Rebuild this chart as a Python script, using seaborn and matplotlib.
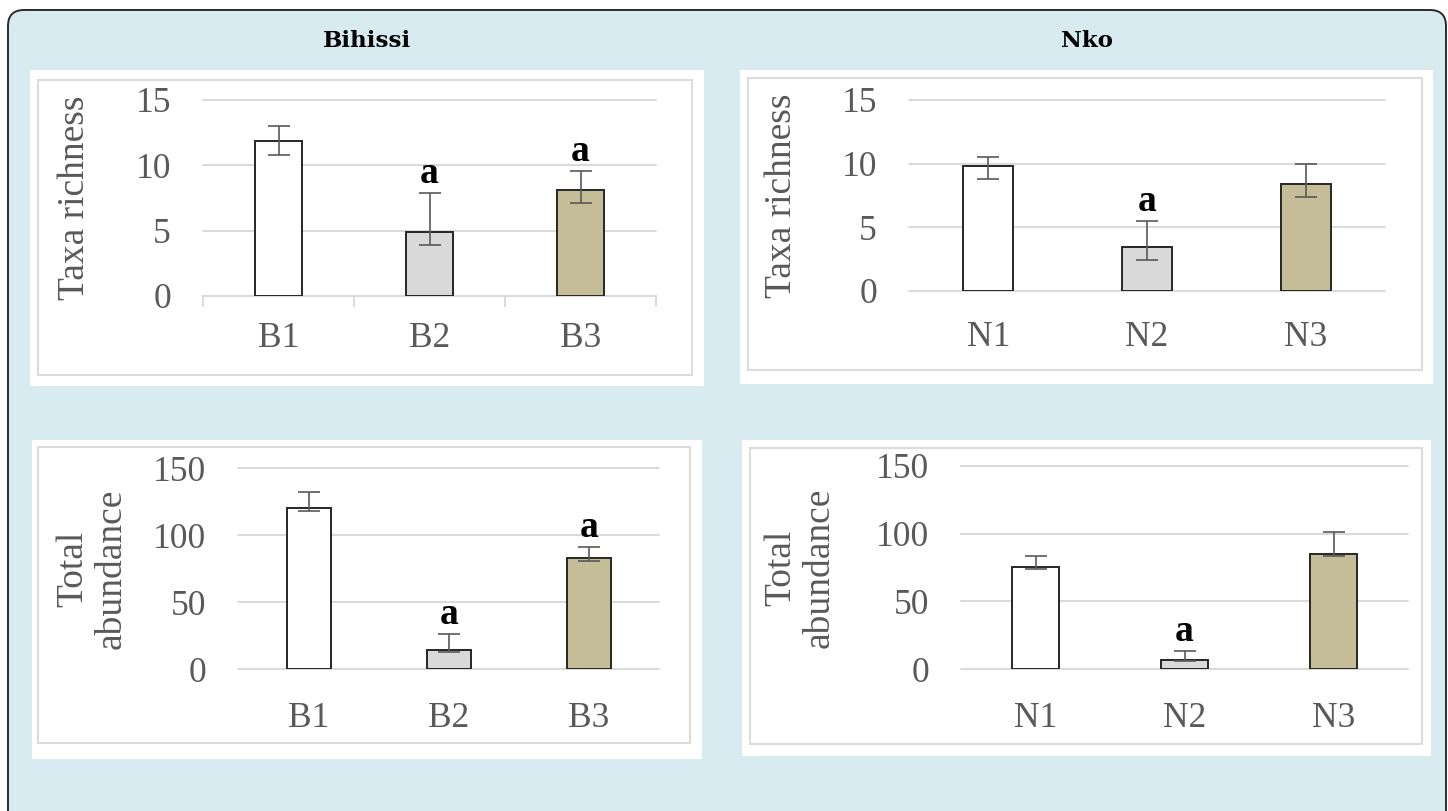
import matplotlib
matplotlib.use("Agg")
import matplotlib.pyplot as plt
from matplotlib.patches import FancyBboxPatch, Rectangle
from matplotlib.transforms import IdentityTransform
import numpy as np
import pandas as pd
import seaborn as sns

# ---- data -------------------------------------------------------------
sites_b = ["B1", "B2", "B3"]
sites_n = ["N1", "N2", "N3"]

richness_b = [11.9, 4.9, 8.1]
richness_b_err_lo = [1.1, 1.0, 1.0]
richness_b_err_hi = [1.1, 3.0, 1.45]
richness_b_letters = ["", "a", "a"]

richness_n = [9.8, 3.4, 8.4]
richness_n_err_lo = [1.0, 1.0, 1.0]
richness_n_err_hi = [0.7, 2.1, 1.6]
richness_n_letters = ["", "a", ""]

abundance_b = [120, 14, 83]
abundance_b_err_lo = [2, 1, 2]
abundance_b_err_hi = [12, 12, 8]
abundance_b_letters = ["", "a", "a"]

abundance_n = [75.5, 6.6, 85]
abundance_n_err_lo = [1.5, 1, 1.5]
abundance_n_err_hi = [8, 7, 16]
abundance_n_letters = ["", "a", ""]

richness_ticks = [0, 5, 10, 15]
abundance_ticks = [0, 50, 100, 150]
river_titles = ["Bihissi", "Nko"]

bar_colors = ["#ffffff", "#d9d9d9", "#c4bd97"]

# ---- styling ----------------------------------------------------------
sns.set_theme(style="white")
plt.rcParams["font.family"] = ["Liberation Serif", "DejaVu Serif"]

W, H = 1448, 811
fig = plt.figure(figsize=(W / 100, H / 100), dpi=100)
fig.patch.set_facecolor("white")

TEXT_GRAY = "#595959"
GRID_GRAY = "#d9d9d9"
BG_BLUE = "#d7ebf0"


def pix_box(x0, y0, x1, y1):
    """Pixel box measured from the top-left corner -> display (x, y, w, h)."""
    return x0, H - y1, x1 - x0, y1 - y0


def axes_rect(x0, y0, x1, y1):
    return [x0 / W, 1 - y1 / H, (x1 - x0) / W, (y1 - y0) / H]


# outer rounded frame
x, y, w, h = pix_box(8, 10, 1446, 840)
fig.add_artist(FancyBboxPatch((x, y), w, h,
                              boxstyle="round,pad=0,rounding_size=16",
                              transform=IdentityTransform(),
                              facecolor=BG_BLUE, edgecolor="#2b2b2b",
                              linewidth=1.4, zorder=-20))

# white chart panels with their light frames
panels = [
    ((30, 70, 704, 386), (38, 80, 692, 375)),
    ((740, 70, 1433, 384), (748, 78, 1422, 370)),
    ((32, 440, 702, 759), (38, 447, 690, 743)),
    ((742, 440, 1431, 756), (750, 448, 1422, 744)),
]
for outer, inner in panels:
    fig.add_artist(Rectangle(pix_box(*outer)[:2], *pix_box(*outer)[2:],
                             transform=IdentityTransform(),
                             facecolor="white", edgecolor="none", zorder=-15))
    fig.add_artist(Rectangle(pix_box(*inner)[:2], *pix_box(*inner)[2:],
                             transform=IdentityTransform(),
                             facecolor="none", edgecolor="#dcdcdc",
                             linewidth=1.5, zorder=-14))

# river titles
for title, cx in zip(river_titles, [367, 1086.5]):
    fig.text(cx / W, 1 - 41 / H, title, ha="center", va="center",
             fontsize=16.5, fontweight="bold", family="DejaVu Serif",
             color="black")


def draw_panel(rect, sites, values, err_lo, err_hi, letters, ticks,
               ylabel, label_x, xpad, axis_line=False):
    ax = fig.add_axes(axes_rect(*rect))
    ax.patch.set_alpha(0)
    df = pd.DataFrame({"site": sites, "value": values})
    sns.barplot(data=df, x="site", y="value", hue="site",
                palette=bar_colors, saturation=1, width=0.315,
                edgecolor="#262626", linewidth=1.4, errorbar=None,
                legend=False, ax=ax, zorder=3)
    xs = np.arange(len(sites))
    ax.errorbar(xs, values, yerr=[err_lo, err_hi], fmt="none",
                ecolor=TEXT_GRAY, elinewidth=1.2, capsize=8,
                capthick=1.2, zorder=4)
    for xi, v, hi, lab in zip(xs, values, err_hi, letters):
        if lab:
            ax.annotate(lab, (xi, v + hi), xytext=(0, 1.5),
                        textcoords="offset points", ha="center",
                        va="bottom", fontsize=27, fontweight="bold",
                        color="black", zorder=5)
    ax.set_ylim(ticks[0], ticks[-1])
    ax.set_xlim(-0.5, len(sites) - 0.5)
    ax.set_yticks(ticks)
    ax.yaxis.grid(True, color=GRID_GRAY, linewidth=1.4)
    ax.set_axisbelow(True)
    for gl in ax.get_ygridlines():
        gl.set_clip_on(False)
    for side in ["top", "right", "left", "bottom"]:
        ax.spines[side].set_visible(False)
    if axis_line:
        ax.spines["bottom"].set_visible(True)
        ax.spines["bottom"].set_color(GRID_GRAY)
        ax.spines["bottom"].set_linewidth(1.4)
        ax.set_xticks([-0.5, 0.5, 1.5, 2.5], minor=True)
        ax.tick_params(axis="x", which="minor", length=8, width=1.3,
                       color=GRID_GRAY, direction="out", bottom=True)
    ax.tick_params(axis="both", which="major", length=0)
    ax.tick_params(axis="y", labelsize=25.5, labelcolor=TEXT_GRAY, pad=23)
    ax.tick_params(axis="x", labelsize=25.5, labelcolor=TEXT_GRAY, pad=xpad)
    ax.set_xlabel("")
    ax.set_ylabel(ylabel, fontsize=27, color=TEXT_GRAY, linespacing=1.12)
    ax.yaxis.label.set_va("center")
    ax.yaxis.set_label_coords(label_x, 0.5)
    return ax


draw_panel((203, 100, 656, 296), sites_b, richness_b, richness_b_err_lo,
           richness_b_err_hi, richness_b_letters, richness_ticks,
           "Taxa richness", -0.283, 19, axis_line=True)
draw_panel((909, 100, 1385, 290.7), sites_n, richness_n, richness_n_err_lo,
           richness_n_err_hi, richness_n_letters, richness_ticks,
           "Taxa richness", -0.267, 22)
draw_panel((238.5, 468.3, 659, 669), sites_b, abundance_b, abundance_b_err_lo,
           abundance_b_err_hi, abundance_b_letters, abundance_ticks,
           "Total\nabundance", -0.348, 24)
draw_panel((961, 466, 1408, 669), sites_n, abundance_n, abundance_n_err_lo,
           abundance_n_err_hi, abundance_n_letters, abundance_ticks,
           "Total\nabundance", -0.36, 24)

fig.savefig("out.png", dpi=100)
